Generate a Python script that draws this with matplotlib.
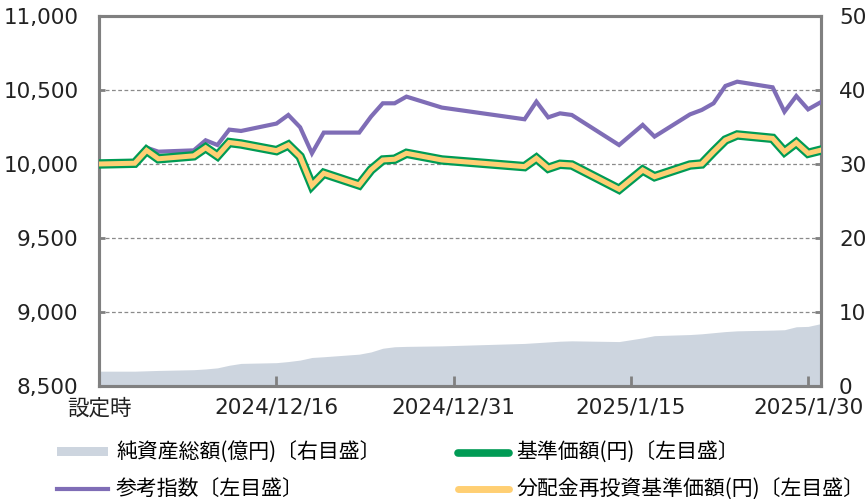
import matplotlib
matplotlib.use("Agg")
import matplotlib.pyplot as plt
from matplotlib.lines import Line2D
from matplotlib.patches import Patch
import pandas as pd

plt.rcParams['font.family'] = ['DejaVu Sans', 'Noto Sans CJK JP']

# business days (setup point first)
dates = ["2024-12-01", "2024-12-04", "2024-12-05", "2024-12-06", "2024-12-09", "2024-12-10",
         "2024-12-11", "2024-12-12", "2024-12-13", "2024-12-16", "2024-12-17", "2024-12-18",
         "2024-12-19", "2024-12-20", "2024-12-23", "2024-12-24", "2024-12-25", "2024-12-26",
         "2024-12-27", "2024-12-30", "2025-01-06", "2025-01-07", "2025-01-08", "2025-01-09",
         "2025-01-10", "2025-01-14", "2025-01-16", "2025-01-17", "2025-01-20", "2025-01-21",
         "2025-01-22", "2025-01-23", "2025-01-24", "2025-01-27", "2025-01-28", "2025-01-29",
         "2025-01-30", "2025-01-31"]

nav = [10000, 10005, 10092, 10035, 10055, 10110, 10055, 10145, 10135, 10090,
       10128, 10050, 9855, 9937, 9858, 9960, 10027, 10032, 10072, 10027,
       9982, 10039, 9971, 9998, 9993, 9829, 9959, 9914,
       9993, 10000, 10083, 10162, 10196, 10173, 10083, 10144, 10072, 10092]

reinvest_nav = list(nav)  # no distributions paid yet

benchmark = [10000, 10005, 10110, 10083, 10092, 10160, 10128, 10232, 10223, 10273,
             10331, 10248, 10072, 10212, 10212, 10320, 10410, 10410, 10455, 10381,
             10302, 10421, 10315, 10342, 10331, 10128, 10264, 10185,
             10335, 10365, 10410, 10527, 10556, 10518, 10353, 10459, 10369, 10414]

net_assets = [2.0, 2.0, 2.05, 2.1, 2.2, 2.3, 2.45, 2.8, 3.05, 3.15,
              3.3, 3.5, 3.85, 3.95, 4.3, 4.6, 5.1, 5.3, 5.35, 5.42,
              5.75, 5.85, 5.95, 6.05, 6.1, 6.0, 6.5, 6.8,
              6.95, 7.05, 7.2, 7.35, 7.45, 7.55, 7.6, 8.0, 8.05, 8.4]

tick_dates = ["2024-12-01", "2024-12-16", "2024-12-31", "2025-01-15", "2025-01-30"]
tick_labels = ["設定時", "2024/12/16", "2024/12/31", "2025/1/15", "2025/1/30"]

x = pd.to_datetime(dates)

C_AREA = "#cdd5df"
C_BENCH = "#7f6db6"
C_NAV = "#009b55"
C_REINV = "#ffcf73"
C_SPINE = "#808080"

fig = plt.figure(figsize=(8.65, 4.99), dpi=100)
ax = fig.add_axes([0.1148, 0.2265, 0.949 - 0.1148, 0.968 - 0.2265])
ax2 = ax.twinx()

ax2.fill_between(x, 0, net_assets, color=C_AREA, lw=0)
ax2.set_ylim(0, 50)
ax2.set_yticks(range(0, 51, 10))

ax.set_zorder(ax2.get_zorder() + 1)
ax.patch.set_visible(False)

ax.plot(x, benchmark, color=C_BENCH, lw=3.0, solid_joinstyle='miter', zorder=3)
ax.plot(x, nav, color=C_NAV, lw=6.8, solid_joinstyle='miter', zorder=4)
ax.plot(x, reinvest_nav, color=C_REINV, lw=3.6, solid_joinstyle='miter', zorder=5)

ax.set_ylim(8500, 11000)
ax.set_yticks(range(8500, 11001, 500))
ax.yaxis.set_major_formatter(matplotlib.ticker.FuncFormatter(lambda v, p: f"{int(v):,}"))
ax.set_xlim(pd.Timestamp("2024-12-01"), pd.Timestamp("2025-01-31 02:00"))
ax.set_xticks(pd.to_datetime(tick_dates))
ax.set_xticklabels(tick_labels)

for v in [9000, 9500, 10000, 10500]:
    ax.axhline(v, color="#8a8a8a", lw=0.9, ls=(0, (3, 2)), zorder=1)

for a in (ax, ax2):
    for s in a.spines.values():
        s.set_color(C_SPINE)
        s.set_linewidth(2.2)
    a.tick_params(colors=C_SPINE, labelcolor="#222222", labelsize=15.5, direction="in", width=2, length=4)

ax.tick_params(axis="y", pad=15)
ax2.tick_params(axis="y", pad=13)
ax.tick_params(axis="x", length=7, pad=8.5)
ax.xaxis.get_major_ticks()[0].tick1line.set_visible(False)

handles = [Patch(facecolor=C_AREA, edgecolor="none"),
           Line2D([], [], color=C_BENCH, lw=3),
           Line2D([], [], color=C_NAV, lw=5.5, solid_capstyle="round"),
           Line2D([], [], color=C_REINV, lw=5, solid_capstyle="round")]
labels = ["純資産総額(億円)〔右目盛〕", "参考指数〔左目盛〕",
          "基準価額(円)〔左目盛〕", "分配金再投資基準価額(円)〔左目盛〕"]
fig.legend(handles, labels, ncol=2, loc="upper left", bbox_to_anchor=(0.066, 0.114),
           frameon=False, prop={"family": ["Noto Sans CJK JP", "DejaVu Sans"], "size": 15},
           handlelength=2.45, handleheight=0.32, handletextpad=0.38,
           columnspacing=3.7, labelspacing=0.68, borderaxespad=0, borderpad=0)

fig.savefig("out.png", dpi=100)
